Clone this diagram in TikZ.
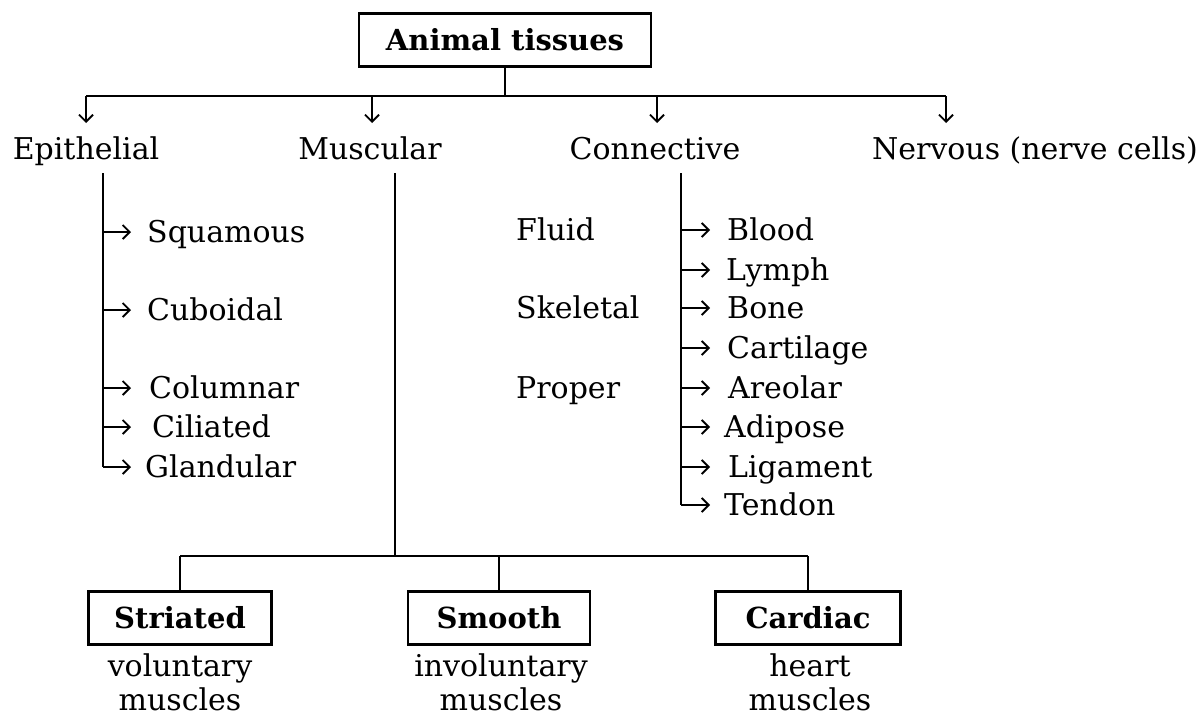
\documentclass[tikz,border=0pt]{standalone}
\usepackage{fontspec}
\setmainfont{DejaVu Serif}
\usetikzlibrary{arrows.meta}
\begin{document}
\begin{tikzpicture}[x=1pt,y=-1pt,
  every node/.style={font=\fontsize{30}{34}\selectfont, inner sep=0pt},
  lbl/.style={text height=21pt, text depth=0pt},
  item/.style={lbl, anchor=west},
  boxed/.style={draw, line width=2.6pt, minimum height=53pt, font=\fontsize{29}{34}\selectfont\bfseries, text height=21pt, text depth=0pt},
  ln/.style={line width=2pt},
  arr/.style={line width=2pt, -{Straight Barb[length=7pt,width=14pt,line width=1.8pt]}},
]
\useasboundingbox (0,0) rectangle (1199,717);
% title
\node[boxed, minimum width=292pt] (root) at (505,40) {Animal tissues};
% bar
\coordinate (b1) at (86,96);
\coordinate (b2) at (372,96);
\coordinate (b3) at (657,96);
\coordinate (b4) at (946,96);
\draw[ln] (root.south) -- (root.south |- b1);
\draw[ln] (b1) -- (b4);
% level labels
\node[lbl] (epi) at (86,149) {Epithelial};
\node[lbl] (mus) at (370,149) {Muscular};
\node[lbl] (con) at (655,149) {Connective};
\node[lbl] (ner) at (1035,149) {Nervous (nerve cells)};
\coordinate (t1) at (86,123);
\coordinate (t2) at (372,123);
\coordinate (t3) at (657,123);
\coordinate (t4) at (946,123);
\draw[arr] (b1) -- (t1);
\draw[arr] (b2) -- (t2);
\draw[arr] (b3) -- (t3);
\draw[arr] (b4) -- (t4);
% epithelial
\node[item] (squ) at (147,232) {Squamous};
\node[item] (cub) at (147,310) {Cuboidal};
\node[item] (col) at (149,388) {Columnar};
\node[item] (cil) at (152,427) {Ciliated};
\node[item] (gla) at (145,467) {Glandular};
\coordinate (eTop) at (103,173);
\draw[ln] (eTop) -- (eTop |- gla.west);
\foreach \n in {squ,cub,col,cil,gla}
  \draw[arr] (eTop |- \n.west) -- ++(28,0);
% connective
\node[lbl, anchor=west] (flu) at (516,230) {Fluid};
\node[lbl, anchor=west] (ske) at (516,308) {Skeletal};
\node[lbl, anchor=west] (pro) at (516,388) {Proper};
\node[item] (blo) at (727,230) {Blood};
\node[item] (lym) at (726,270) {Lymph};
\node[item] (bon) at (727,308) {Bone};
\node[item] (car) at (727,348) {Cartilage};
\node[item] (are) at (728,388) {Areolar};
\node[item] (adi) at (724,427) {Adipose};
\node[item] (lig) at (728,467) {Ligament};
\node[item] (ten) at (724,505) {Tendon};
\coordinate (cTop) at (681,173);
\draw[ln] (cTop) -- (cTop |- ten.west);
\foreach \n in {blo,lym,bon,car,are,adi,lig,ten}
  \draw[arr] (cTop |- \n.west) -- ++(29,0);
% muscular
\coordinate (mTop) at (395,173);
\coordinate (mBar) at (395,556);
\draw[ln] (mTop) -- (mBar);
\node[boxed, minimum width=183pt] (str) at (180,618) {Striated};
\node[boxed, minimum width=182pt] (smo) at (499,618) {Smooth};
\node[boxed, minimum width=185pt] (car2) at (808,618) {Cardiac};
\draw[ln] (str.north |- mBar) -- (car2.north |- mBar);
\draw[ln] (str.north |- mBar) -- (str.north);
\draw[ln] (smo.north |- mBar) -- (smo.north);
\draw[ln] (car2.north |- mBar) -- (car2.north);
\node[lbl] (v1) at (180,666) {voluntary};
\node[lbl] (v2) at (180,700) {muscles};
\node[lbl] (i1) at (501,666) {involuntary};
\node[lbl] (i2) at (501,700) {muscles};
\node[lbl] (h1) at (810,666) {heart};
\node[lbl] (h2) at (810,700) {muscles};
\end{tikzpicture}
\end{document}
